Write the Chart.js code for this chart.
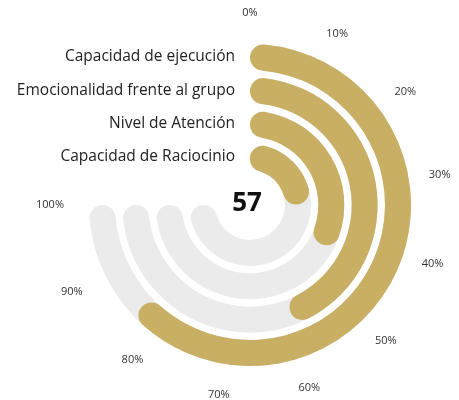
<!DOCTYPE html>
<html>
<head>
<meta charset="utf-8">
<script src="https://cdn.jsdelivr.net/npm/chart.js@4"></script>
<style>
  body { margin: 0; background: #fff; }
  #wrap { position: relative; width: 459px; height: 400px; }
  #wrap canvas { position: absolute; left: 0; top: 0; }
</style>
</head>
<body>
<div id="wrap">
  <canvas id="trackChart" width="459" height="400"></canvas>
  <canvas id="valueChart" width="459" height="400"></canvas>
</div>
<script>
// Data
const categories = ['Capacidad de ejecución', 'Emocionalidad frente al grupo', 'Nivel de Atención', 'Capacidad de Raciocinio'];
const values = [84, 59, 44, 33];
const tickLabels = ['0%', '10%', '20%', '30%', '40%', '50%', '60%', '70%', '80%', '90%', '100%'];
const centerValue = '57';

const GOLD = '#C8AF64';
const TRACK = '#EBEBEB';
const RING_W = 26;
const GAP_W = 7.33;

// one ring dataset per category, with transparent spacer rings between them
function buildDatasets(kind) {
    const sets = [];
    categories.forEach((cat, i) => {
        if (kind === 'track') {
            sets.push({ label: cat, data: [100], backgroundColor: [TRACK], borderRadius: 20, weight: RING_W });
        } else {
            sets.push({
                label: cat,
                data: [values[i], 100 - values[i]],
                backgroundColor: [GOLD, 'rgba(0,0,0,0)'],
                borderRadius: ctx => ctx.dataIndex === 0 ? 20 : 0,
                weight: RING_W
            });
        }
        if (i < categories.length - 1) {
            sets.push({ label: '', data: [100], backgroundColor: ['rgba(0,0,0,0)'], weight: GAP_W });
        }
    });
    return sets;
}

const baseOptions = {
    responsive: false,
    animation: false,
    rotation: 0,
    circumference: 270,
    cutout: '21.7%',
    layout: { padding: { left: 89, right: 48, top: 44, bottom: 34 } },
    elements: { arc: { borderWidth: 0 } },
    plugins: { legend: { display: false }, tooltip: { enabled: false } },
    events: []
};

// labels, percent ticks and center number
const textPlugin = {
    id: 'radialText',
    afterDraw(chart) {
        const ctx = chart.ctx;
        const outer = chart.getDatasetMeta(0).data[0];
        const cx = outer.x, cy = outer.y;

        ctx.save();
        ctx.fillStyle = '#222';
        ctx.font = '15.5px "Open Sans"';
        ctx.textAlign = 'right';
        ctx.textBaseline = 'middle';
        categories.forEach((cat, i) => {
            const arc = chart.getDatasetMeta(i * 2).data[0];
            const mid = (arc.outerRadius + arc.innerRadius) / 2;
            ctx.fillText(cat, cx - 15, cy - mid);
        });

        ctx.fillStyle = '#333';
        ctx.font = '11px "Open Sans"';
        ctx.textAlign = 'center';
        const r = outer.outerRadius + 31;
        tickLabels.forEach((t, i) => {
            const a = (i / (tickLabels.length - 1)) * 270 * Math.PI / 180;
            const s = Math.sin(a);
            const x = cx + r * s + (s < 0 ? 8 * s : 0);
            const y = cy - r * Math.cos(a);
            ctx.fillText(t, x, y);
        });

        ctx.fillStyle = '#111';
        ctx.font = 'bold 26px "Open Sans"';
        ctx.fillText(centerValue, cx - 3, cy - 1);
        ctx.restore();
    }
};

new Chart(document.getElementById('trackChart'), {
    type: 'doughnut',
    data: { labels: ['track'], datasets: buildDatasets('track') },
    options: baseOptions
});

new Chart(document.getElementById('valueChart'), {
    type: 'doughnut',
    data: { labels: ['value', 'rest'], datasets: buildDatasets('value') },
    options: baseOptions,
    plugins: [textPlugin]
});
</script>
</body>
</html>
